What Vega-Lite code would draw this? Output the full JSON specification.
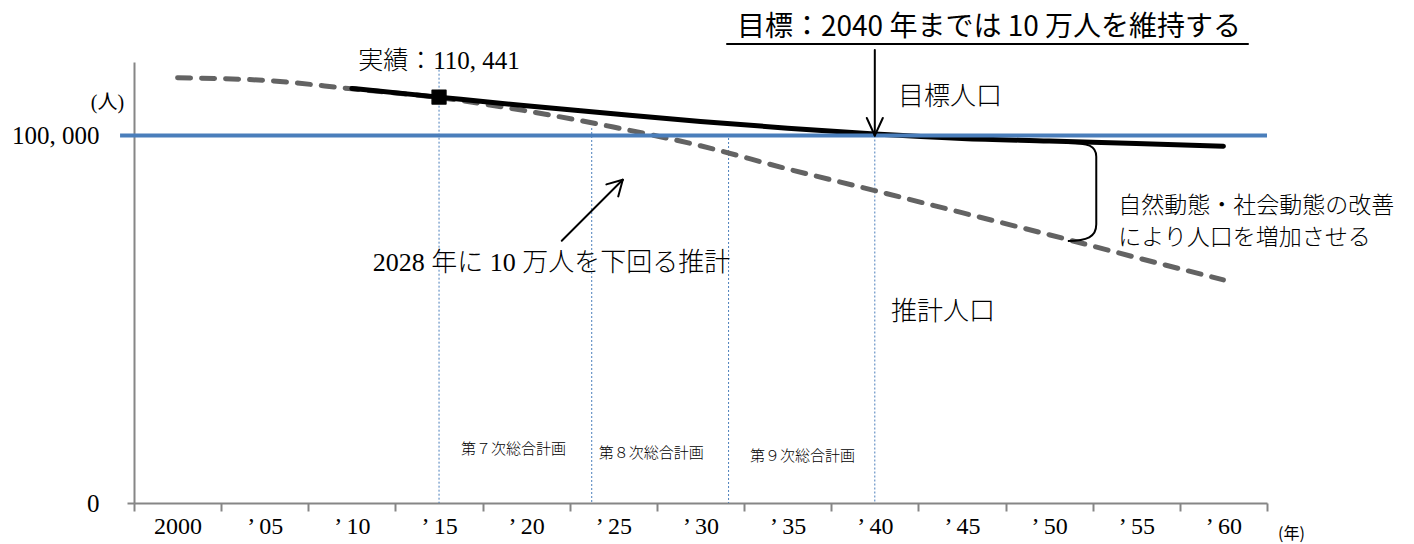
{
  "$schema": "https://vega.github.io/schema/vega-lite/v6.json",
  "width": 1133,
  "height": 441,
  "autosize": {"type": "none"},
  "padding": {"left": 134, "top": 62, "right": 147, "bottom": 41},
  "background": "white",
  "config": {"view": {"stroke": null}, "font": "Noto Sans CJK JP"},
  "datasets": {
    "population": [
      {"series": "推計人口", "year": 2000, "value": 115700},
      {"series": "推計人口", "year": 2005, "value": 115000},
      {"series": "推計人口", "year": 2010, "value": 112700},
      {"series": "推計人口", "year": 2015, "value": 110300},
      {"series": "推計人口", "year": 2020, "value": 106700},
      {"series": "推計人口", "year": 2025, "value": 102300},
      {"series": "推計人口", "year": 2030, "value": 97200},
      {"series": "推計人口", "year": 2035, "value": 90900},
      {"series": "推計人口", "year": 2040, "value": 85000},
      {"series": "推計人口", "year": 2045, "value": 79000},
      {"series": "推計人口", "year": 2050, "value": 73000},
      {"series": "推計人口", "year": 2055, "value": 66800},
      {"series": "推計人口", "year": 2060, "value": 60700},
      {"series": "目標人口", "year": 2010, "value": 112800},
      {"series": "目標人口", "year": 2015, "value": 110441},
      {"series": "目標人口", "year": 2020, "value": 108100},
      {"series": "目標人口", "year": 2025, "value": 105900},
      {"series": "目標人口", "year": 2030, "value": 103800},
      {"series": "目標人口", "year": 2035, "value": 102000},
      {"series": "目標人口", "year": 2040, "value": 100400},
      {"series": "目標人口", "year": 2045, "value": 99200},
      {"series": "目標人口", "year": 2050, "value": 98500},
      {"series": "目標人口", "year": 2055, "value": 97800},
      {"series": "目標人口", "year": 2060, "value": 97100}
    ]
  },
  "encoding": {
    "x": {
      "field": "year",
      "type": "quantitative",
      "scale": {"domain": [1997.5, 2062.5], "nice": false, "zero": false},
      "axis": {
        "values": [1997.5, 2002.5, 2007.5, 2012.5, 2017.5, 2022.5, 2027.5, 2032.5, 2037.5, 2042.5, 2047.5, 2052.5, 2057.5, 2062.5],
        "labelExpr": "datum.value > 2060 ? '' : (datum.value < 2000 ? '2000' : '’ ' + format(datum.value + 2.5 - 2000, '02d'))",
        "labelOffset": 43.6,
        "labelFlush": false,
        "labelOverlap": false,
        "labelBound": false,
        "grid": false,
        "domainColor": "#868686",
        "domainWidth": 2,
        "tickColor": "#868686",
        "tickWidth": 2,
        "tickSize": 8,
        "labelFont": "Liberation Serif",
        "labelFontSize": 24,
        "labelColor": "black",
        "labelPadding": 3,
        "title": "(年)",
        "titleX": 1157,
        "titleY": 30,
        "titleAlign": "center",
        "titleBaseline": "middle",
        "titleFont": "Noto Sans CJK JP",
        "titleFontSize": 16,
        "titleFontWeight": "normal",
        "titleColor": "black"
      }
    },
    "y": {
      "field": "value",
      "type": "quantitative",
      "scale": {"domain": [0, 120000], "nice": false},
      "axis": {
        "values": [0, 100000],
        "labelExpr": "datum.value == 0 ? '0' : '100, 000'",
        "grid": false,
        "domainColor": "#868686",
        "domainWidth": 2,
        "tickColor": "#868686",
        "tickWidth": 2,
        "tickSize": 7,
        "labelFont": "Liberation Serif",
        "labelFontSize": 25,
        "labelColor": "black",
        "labelPadding": 28,
        "title": "(人)",
        "titleAngle": 0,
        "titleX": -27,
        "titleY": 40,
        "titleAlign": "center",
        "titleBaseline": "middle",
        "titleFont": "Liberation Serif, Noto Sans CJK JP",
        "titleFontSize": 20,
        "titleFontWeight": "normal",
        "titleColor": "black"
      }
    }
  },
  "layer": [
    {
      "data": {"values": [
        {"year": 2015, "value": 119000},
        {"year": 2023.76, "value": 102040},
        {"year": 2031.61, "value": 99320},
        {"year": 2040, "value": 100000}
      ]},
      "mark": {"type": "rule", "color": "#4A7EBB", "strokeWidth": 1, "strokeDash": [2, 2]},
      "encoding": {"y2": {"datum": 0}}
    },
    {
      "data": {"name": "population"},
      "transform": [{"filter": "datum.series == '推計人口'"}],
      "mark": {"type": "line", "interpolate": "monotone", "color": "#636363", "strokeWidth": 5, "strokeDash": [13, 11], "strokeCap": "round"},
      "encoding": {}
    },
    {
      "data": {"name": "population"},
      "transform": [{"filter": "datum.series == '目標人口'"}],
      "mark": {"type": "line", "interpolate": "monotone", "color": "black", "strokeWidth": 5, "strokeCap": "round"},
      "encoding": {}
    },
    {
      "data": {"values": [{"year": 1996.7, "year2": 2062.5, "value": 100000}]},
      "mark": {"type": "rule", "color": "#4A7EBB", "strokeWidth": 4},
      "encoding": {
        "x2": {"field": "year2"}
      }
    },
    {
      "data": {"values": [{"year": 2015, "value": 110441}]},
      "mark": {"type": "point", "shape": "square", "filled": true, "size": 190, "color": "black", "opacity": 1, "stroke": "black", "strokeWidth": 1.5, "strokeJoin": "round"},
      "encoding": {}
    },
    {
      "data": {"values": [
        {"year": 2022.04, "value": 71375, "year2": 2025.54, "value2": 87967},
        {"year": 2024.60, "value": 86694, "year2": 2025.54, "value2": 87967},
        {"year": 2025.28, "value": 83430, "year2": 2025.54, "value2": 87967},
        {"year": 2040, "value": 123266, "year2": 2040, "value2": 100000},
        {"year": 2039.54, "value": 104762, "year2": 2040, "value2": 100000},
        {"year": 2040.46, "value": 104762, "year2": 2040, "value2": 100000},
        {"year": 2031.52, "value": 124900, "year2": 2061.41, "value2": 124900}
      ]},
      "mark": {"type": "rule", "color": "black", "strokeWidth": 2, "strokeCap": "round"},
      "encoding": {
        "x2": {"field": "year2"},
        "y2": {"field": "value2"}
      }
    },
    {
      "data": {"values": [{"year": 2051.89, "value": 84626}]},
      "mark": {"type": "point", "shape": "M -0.29 -1 C 0.12 -1 0.29 -0.95 0.29 -0.72 L 0.29 0.66 C 0.29 0.92 0.1 1 -0.29 1", "filled": false, "size": 9604, "stroke": "black", "strokeWidth": 2, "opacity": 1},
      "encoding": {}
    },
    {
      "data": {"values": [{"year": 2046.55, "value": 129250, "label": "目標：2040 年までは 10 万人を維持する"}]},
      "mark": {"type": "text", "font": "Noto Sans CJK JP", "fontSize": 28, "fontWeight": "normal", "align": "center", "baseline": "middle", "color": "black"},
      "encoding": {"text": {"field": "label"}}
    },
    {
      "data": {"values": [
        {"year": 2044.31, "value": 110477, "label": "目標人口"},
        {"year": 2043.91, "value": 52054, "label": "推計人口"},
        {"year": 2021.45, "value": 65306, "label": "2028 年に 10 万人を下回る推計"}
      ]},
      "mark": {"type": "text", "font": "Liberation Serif, Noto Sans CJK JP", "fontSize": 26, "fontWeight": 300, "align": "center", "baseline": "middle", "color": "black"},
      "encoding": {"text": {"field": "label"}}
    },
    {
      "data": {"values": [{"year": 2015, "value": 120270, "label": "実績：110, 441"}]},
      "mark": {"type": "text", "font": "Liberation Serif, Noto Sans CJK JP", "fontSize": 25, "fontWeight": 300, "align": "center", "baseline": "middle", "color": "black"},
      "encoding": {"text": {"field": "label"}}
    },
    {
      "data": {"values": [
        {"year": 2053.97, "value": 80817, "label": "自然動態・社会動態の改善"},
        {"year": 2053.97, "value": 72028, "label": "により人口を増加させる"}
      ]},
      "mark": {"type": "text", "font": "Noto Sans CJK JP", "fontSize": 23, "fontWeight": 300, "align": "left", "baseline": "middle", "color": "black"},
      "encoding": {"text": {"field": "label"}}
    },
    {
      "data": {"values": [
        {"year": 2019.27, "value": 14612, "label": "第７次総合計画"},
        {"year": 2027.18, "value": 13524, "label": "第８次総合計画"},
        {"year": 2035.85, "value": 12789, "label": "第９次総合計画"}
      ]},
      "mark": {"type": "text", "font": "Noto Sans CJK JP", "fontSize": 15, "fontWeight": 300, "align": "center", "baseline": "middle", "color": "black"},
      "encoding": {"text": {"field": "label"}}
    }
  ]
}
